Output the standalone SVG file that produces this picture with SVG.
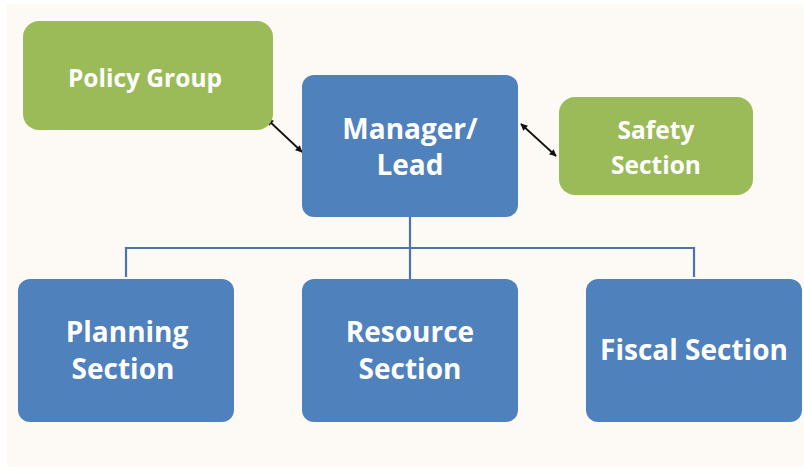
<svg xmlns="http://www.w3.org/2000/svg" width="804" height="470" viewBox="0 0 804 470">
  <defs>
    <style>
      .green { fill: #9BBB59; }
      .blue { fill: #4F81BD; }
      .label { fill: #FFFFFF; font-family: "Open Sans", "Liberation Sans", sans-serif; font-weight: bold; text-anchor: middle; }
      .small { font-size: 24.5px; }
      .big { font-size: 28px; }
      .tree { fill: none; stroke: #4A75AB; stroke-width: 2.2; }
      .link { stroke: #111111; stroke-width: 1.8; marker-start: url(#tip); marker-end: url(#tip); }
    </style>
    <marker id="tip" viewBox="0 0 10 10" refX="9" refY="5" markerWidth="8" markerHeight="7" orient="auto-start-reverse" markerUnits="userSpaceOnUse">
      <path d="M0,0 L10,5 L0,10 z" fill="#111111"/>
    </marker>
  </defs>

  <rect x="0" y="0" width="804" height="470" fill="#FFFFFF"/>
  <rect x="7" y="4" width="797" height="463" fill="#FDFAF5"/>

  <g id="connectors">
    <path class="tree" d="M410,217 V279 M126,277 V248 H694 V277"/>
    <line class="link" x1="267" y1="119" x2="302" y2="152"/>
    <line class="link" x1="521" y1="124" x2="556" y2="156"/>
  </g>

  <g id="policy-group">
    <rect class="green" x="23" y="21" width="250" height="109" rx="16"/>
    <text class="label small" x="145" y="87">Policy Group</text>
  </g>

  <g id="manager-lead">
    <rect class="blue" x="302" y="75" width="216" height="142" rx="12"/>
    <text class="label big" x="410" y="139">Manager/</text>
    <text class="label big" x="410" y="175">Lead</text>
  </g>

  <g id="safety-section">
    <rect class="green" x="559" y="97" width="194" height="98" rx="16"/>
    <text class="label small" x="656" y="139">Safety</text>
    <text class="label small" x="656" y="174">Section</text>
  </g>

  <g id="planning-section">
    <rect class="blue" x="18" y="279" width="216" height="143" rx="12"/>
    <text class="label big" x="127" y="342">Planning</text>
    <text class="label big" x="123" y="379">Section</text>
  </g>

  <g id="resource-section">
    <rect class="blue" x="302" y="279" width="216" height="143" rx="12"/>
    <text class="label big" x="410" y="342">Resource</text>
    <text class="label big" x="410" y="379">Section</text>
  </g>

  <g id="fiscal-section">
    <rect class="blue" x="586" y="279" width="216" height="143" rx="12"/>
    <text class="label big" x="694" y="360">Fiscal Section</text>
  </g>
</svg>
